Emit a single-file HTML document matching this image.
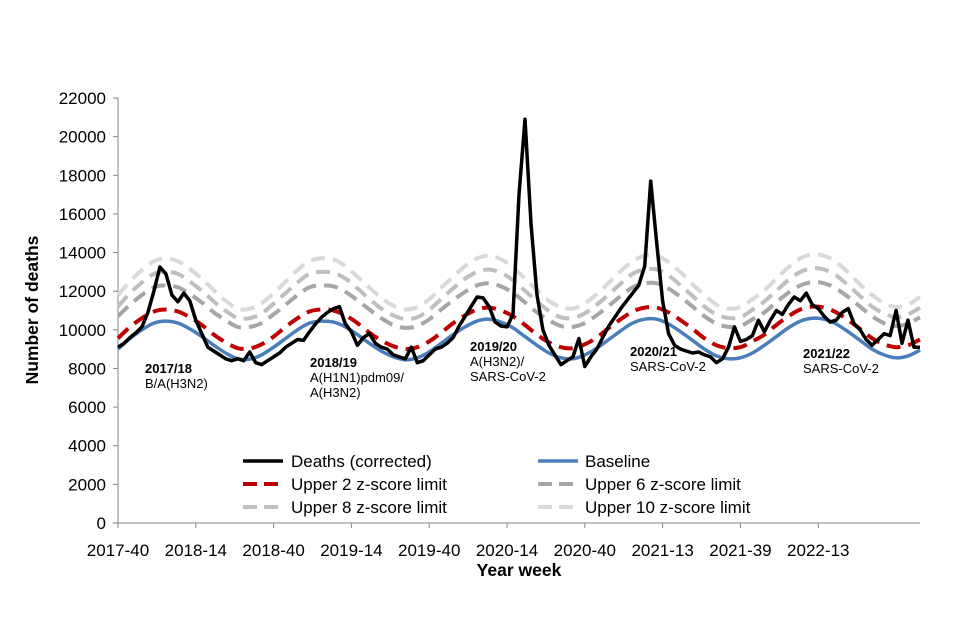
<!DOCTYPE html>
<html><head><meta charset="utf-8"><style>
html,body{margin:0;padding:0;background:#fff;}
svg{display:block;font-family:"Liberation Sans",Arial,sans-serif;}
</style></head><body>
<svg id="chart" width="960" height="640" viewBox="0 0 960 640">
<g id="axes"></g>
<g id="series"></g>
<g id="annotations">
<text x="145" y="373" font-size="13" font-weight="bold">2017/18</text>
<text x="145" y="388" font-size="13">B/A(H3N2)</text>
<text x="310" y="367" font-size="13" font-weight="bold">2018/19</text>
<text x="310" y="382" font-size="13">A(H1N1)pdm09/</text>
<text x="310" y="397" font-size="13">A(H3N2)</text>
<text x="470" y="351" font-size="13" font-weight="bold">2019/20</text>
<text x="470" y="366" font-size="13">A(H3N2)/</text>
<text x="470" y="381" font-size="13">SARS-CoV-2</text>
<text x="630" y="356" font-size="13" font-weight="bold">2020/21</text>
<text x="630" y="371" font-size="13">SARS-CoV-2</text>
<text x="803" y="358" font-size="13" font-weight="bold">2021/22</text>
<text x="803" y="373" font-size="13">SARS-CoV-2</text>
</g>
<g id="legend">
<g><line x1="243" y1="461" x2="283" y2="461" stroke="#000" stroke-width="3.5"/><text x="291" y="467" font-size="17">Deaths (corrected)</text></g>
<g><line x1="538" y1="461" x2="578" y2="461" stroke="#4a7ebb" stroke-width="3.5"/><text x="585" y="467" font-size="17">Baseline</text></g>
<g><line x1="243" y1="484" x2="283" y2="484" stroke="#c00000" stroke-width="4" stroke-dasharray="14 7"/><text x="291" y="490" font-size="17">Upper 2 z-score limit</text></g>
<g><line x1="538" y1="484" x2="578" y2="484" stroke="#a6a6a6" stroke-width="4" stroke-dasharray="14 7"/><text x="585" y="490" font-size="17">Upper 6 z-score limit</text></g>
<g><line x1="243" y1="507" x2="283" y2="507" stroke="#bfbfbf" stroke-width="4" stroke-dasharray="14 7"/><text x="291" y="513" font-size="17">Upper 8 z-score limit</text></g>
<g><line x1="538" y1="507" x2="578" y2="507" stroke="#d9d9d9" stroke-width="4" stroke-dasharray="14 7"/><text x="585" y="513" font-size="17">Upper 10 z-score limit</text></g>
</g>
</svg>
<script>
const yTicks = [0,2000,4000,6000,8000,10000,12000,14000,16000,18000,20000,22000];
const xTickLabels = ["2017-40","2018-14","2018-40","2019-14","2019-40","2020-14","2020-40","2021-13","2021-39","2022-13"];
const xTickWeeks = [0,26,52,78,104,130,156,182,208,234];
const limitStep = 4;
const deathStep = 2;
const baseline = [9000,9550,10000,10350,10450,10350,10050,9650,9200,8800,8500,8480,
8700,9100,9550,10000,10350,10450,10400,10150,9750,9300,8900,8600,
8450,8550,8850,9300,9750,10150,10450,10550,10400,10100,9650,9200,
8800,8550,8500,8700,9050,9500,9950,10350,10550,10550,10300,9900,
9450,9000,8650,8500,8550,8800,9200,9650,10100,10450,10600,10550,
10300,9900,9450,9000,8700,8550,8650,8950];
const upperZ2 = [9560,10150,10600,10950,11050,10950,10650,10250,9750,9350,9050,9030,
9250,9650,10150,10600,10950,11050,11000,10750,10350,9850,9450,9150,
9000,9100,9400,9850,10350,10750,11050,11150,11000,10700,10250,9750,
9350,9100,9050,9250,9600,10100,10550,10950,11150,11150,10900,10500,
10050,9560,9200,9050,9100,9400,9750,10250,10700,11050,11200,11150,
10900,10500,10050,9560,9250,9100,9200,9500];
const upperZ6 = [10700,11300,11800,12200,12300,12200,11850,11420,10900,10500,10150,10150,
10350,10800,11300,11800,12200,12300,12250,11970,11530,11050,10600,10250,
10100,10200,10540,11050,11530,11970,12300,12410,12250,11915,11420,10900,
10500,10200,10150,10350,10760,11250,11750,12200,12410,12410,12135,11700,
11200,10700,10320,10150,10200,10540,10900,11420,11915,12300,12465,12410,
12135,11700,11200,10700,10350,10200,10320,10650];
const upperZ8 = [11200,11900,12450,12900,13000,12900,12500,12020,11470,10980,10610,10600,
10850,11350,11900,12450,12900,13000,12950,12650,12150,11590,11100,10750,
10550,10650,11040,11590,12150,12650,13000,13120,12950,12570,12020,11470,
10980,10650,10610,10850,11300,11840,12390,12900,13120,13120,12815,12300,
11750,11200,10800,10610,10650,11040,11470,12020,12570,13000,13185,13120,
12815,12300,11750,11200,10850,10650,10800,11150];
const upperZ10 = [11800,12500,13100,13550,13700,13550,13150,12650,12050,11500,11100,11090,
11380,11900,12500,13100,13550,13700,13650,13300,12750,12180,11650,11250,
11050,11180,11580,12180,12750,13300,13700,13830,13650,13235,12650,12050,
11500,11180,11100,11380,11850,12440,13040,13550,13830,13830,13500,12970,
12350,11800,11300,11100,11180,11580,12050,12650,13235,13700,13900,13830,
13500,12970,12350,11800,11380,11180,11300,11700];
const deaths = [9100,9300,9600,9850,10150,10900,12000,13250,12900,11800,11450,11900,11500,10500,9800,9100,8900,8700,8500,8400,
8500,8400,8850,8300,8200,8400,8600,8800,9100,9300,9500,9450,9900,10300,10650,10900,11100,11200,10300,9900,
9200,9600,9800,9300,9100,9000,8700,8600,8500,9100,8300,8400,8700,9000,9100,9300,9600,10200,10700,11200,
11700,11650,11200,10400,10200,10150,10800,17000,20900,15500,11800,10000,9200,8700,8200,8400,8600,9550,8100,8600,
9000,9600,10200,10650,11100,11500,11900,12300,13300,17700,14500,11500,9800,9200,9000,8900,8800,8850,8700,8600,
8300,8500,9100,10150,9400,9500,9700,10500,9900,10500,11000,10800,11300,11700,11500,11900,11300,11100,10700,10400,
10500,10900,11100,10300,10000,9500,9200,9500,9800,9700,11000,9300,10500,9100,9100];

const NS="http://www.w3.org/2000/svg";
const X0=118, X1=920, Y0=523, Y1=98, WEEKS=268, VMAX=22000;
const xs = w => X0 + w*(X1-X0)/WEEKS;
const ys = v => Y0 - v*(Y0-Y1)/VMAX;
function mk(tag, attrs, parent){const e=document.createElementNS(NS,tag);for(const k in attrs)e.setAttribute(k,attrs[k]);parent.appendChild(e);return e;}
const axes=document.getElementById('axes'), series=document.getElementById('series');

const ya=mk('line',{x1:X0,y1:Y1,x2:X0,y2:Y0,stroke:'#868686','stroke-width':1},axes);


const xa=mk('line',{x1:X0,y1:Y0,x2:X1,y2:Y0,stroke:'#868686','stroke-width':1},axes);


yTicks.forEach(v=>{
  mk('line',{x1:X0-5,y1:ys(v),x2:X0,y2:ys(v),stroke:'#868686'},axes);
  const t=mk('text',{x:106,y:ys(v)+6,'text-anchor':'end','font-size':17},axes);
  t.textContent=v;
  
  
});
xTickWeeks.forEach((w,i)=>{
  mk('line',{x1:xs(w),y1:Y0,x2:xs(w),y2:Y0+5,stroke:'#868686'},axes);
  const t=mk('text',{x:xs(w),y:556,'text-anchor':'middle','font-size':17},axes);
  t.textContent=xTickLabels[i];
  
  
});
const yt=mk('text',{x:0,y:0,transform:'translate(38,310) rotate(-90)','text-anchor':'middle','font-size':17.5,'font-weight':'bold'},axes);
yt.textContent='Number of deaths';


const xt=mk('text',{x:519,y:576,'text-anchor':'middle','font-size':17.5,'font-weight':'bold'},axes);
xt.textContent='Year week';



function smoothPath(arr, step){
  const p=arr.map((v,i)=>[xs(i*step),ys(v)]);
  let d='M'+p[0][0].toFixed(1)+','+p[0][1].toFixed(1);
  for(let i=0;i<p.length-1;i++){
    const a=p[i-1]||p[i], b=p[i], c=p[i+1], e=p[i+2]||c;
    const c1=[b[0]+(c[0]-a[0])/6,b[1]+(c[1]-a[1])/6], c2=[c[0]-(e[0]-b[0])/6,c[1]-(e[1]-b[1])/6];
    d+=' C'+c1[0].toFixed(1)+','+c1[1].toFixed(1)+' '+c2[0].toFixed(1)+','+c2[1].toFixed(1)+' '+c[0].toFixed(1)+','+c[1].toFixed(1);
  }
  return d;
}
function linePath(arr, step){return arr.map((v,i)=>(i?'L':'M')+xs(i*step).toFixed(1)+','+ys(v).toFixed(1)).join(' ');}

const z10=mk('path',{d:smoothPath(upperZ10,limitStep),fill:'none',stroke:'#d9d9d9','stroke-width':4,'stroke-dasharray':'14 8'},series);


const z8=mk('path',{d:smoothPath(upperZ8,limitStep),fill:'none',stroke:'#bfbfbf','stroke-width':4,'stroke-dasharray':'14 8'},series);


const z6=mk('path',{d:smoothPath(upperZ6,limitStep),fill:'none',stroke:'#a6a6a6','stroke-width':4,'stroke-dasharray':'14 8'},series);


const z2=mk('path',{d:smoothPath(upperZ2,limitStep),fill:'none',stroke:'#c00000','stroke-width':4,'stroke-dasharray':'14 8'},series);


const bl=mk('path',{d:smoothPath(baseline,limitStep),fill:'none',stroke:'#4a7ebb','stroke-width':3.5},series);


const dl=mk('path',{d:linePath(deaths,deathStep),fill:'none',stroke:'#000','stroke-width':3.5,'stroke-linejoin':'round'},series);


</script>
</body></html>
